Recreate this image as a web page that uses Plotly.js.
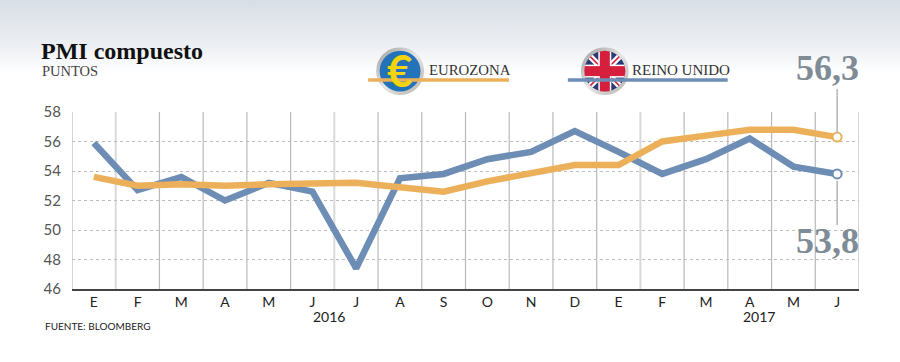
<!DOCTYPE html>
<html><head><meta charset="utf-8">
<script src="https://cdn.plot.ly/plotly-3.0.1.min.js"></script>
<style>
html,body{margin:0;padding:0;width:900px;height:362px;overflow:hidden;background:#fff}
body{background:linear-gradient(to bottom,#d8dee6 0,#eceff3 45px,#ffffff 73px,#ffffff 100%)}
#c{width:900px;height:362px}
</style></head><body><div id="c"></div>
<script>
const months = ['E','F','M','A','M','J','J','A','S','O','N','D','E','F','M','A','M','J'];
const positions = months.map((_, i) => i);
const yTicks = [46,48,50,52,54,56,58];
const reinoUnido = [55.9,52.7,53.6,52.0,53.2,52.6,47.4,53.5,53.8,54.8,55.3,56.7,55.3,53.8,54.8,56.2,54.3,53.8];
const eurozona = [53.6,53.0,53.1,53.0,53.1,53.1,53.2,52.9,52.6,53.3,53.9,54.4,54.4,56.0,56.4,56.8,56.8,56.3];
const ORANGE = '#edb05a', BLUE = '#6d8db5', GREY = '#7f8b95';

const W = 900, H = 362, L = 71.5, R = 859.5, T = 112, B = 289.5;
const px = x => (x - L) / (R - L);
const py = y => (B - y) / (B - T);
const SERIF = '"Liberation Serif",serif', SANS = 'Lato,sans-serif';

const euroSvg = `<svg xmlns="http://www.w3.org/2000/svg" width="96" height="96" viewBox="0 0 48 48">
<defs><linearGradient id="r" x1="0" y1="0" x2="1" y2="1"><stop offset="0" stop-color="#9a9a9a"/><stop offset=".5" stop-color="#e6e6e6"/><stop offset="1" stop-color="#b5b0a8"/></linearGradient></defs>
<circle cx="24" cy="24" r="24" fill="url(#r)"/><circle cx="24" cy="24" r="20.5" fill="#2273b9"/></svg>`;
const ukSvg = `<svg xmlns="http://www.w3.org/2000/svg" width="96" height="96" viewBox="0 0 48 48">
<defs><linearGradient id="r" x1="0" y1="0" x2="1" y2="1"><stop offset="0" stop-color="#9a9a9a"/><stop offset=".5" stop-color="#e6e6e6"/><stop offset="1" stop-color="#b5b0a8"/></linearGradient>
<clipPath id="k"><circle cx="24" cy="24" r="20.5"/></clipPath></defs>
<circle cx="24" cy="24" r="24" fill="url(#r)"/>
<g clip-path="url(#k)"><rect width="48" height="48" fill="#2b3a72"/>
<path d="M0 0L48 48M48 0L0 48" stroke="#fff" stroke-width="6"/>
<path d="M0 0L48 48M48 0L0 48" stroke="#d51f3c" stroke-width="1.6"/>
<rect x="17.5" width="13" height="48" fill="#fff"/><rect y="17.5" width="48" height="13" fill="#fff"/>
<rect x="19" width="10" height="48" fill="#d51f3c"/><rect y="19" width="48" height="10" fill="#d51f3c"/></g></svg>`;
const uri = s => 'data:image/svg+xml;base64,' + btoa(s);
const badge = (src, cx, cy, r) => ({source: uri(src), xref:'paper', yref:'paper', x:px(cx-r), y:py(cy-r), sizex:2*r/(R-L), sizey:2*r/(B-T), sizing:'stretch', xanchor:'left', yanchor:'top', layer:'above'});

const shapes = [];
for (let i = 0; i <= months.length; i++) {
  const soft = i === 1 || i === 6 || i === 13;
  shapes.push({type:'line', layer:'below', xref:'x', yref:'paper', x0:i-0.5, x1:i-0.5, y0:0, y1:1,
    line:{color: soft ? '#d9d9d9' : '#b9b9b9', width: soft ? 2 : 1.2}});
}
const legendLine = (x0,x1,color) => ({type:'line', xref:'paper', yref:'paper', x0:px(x0), x1:px(x1), y0:py(80), y1:py(80), line:{color, width:3.5}});
shapes.push(legendLine(368,509,ORANGE), legendLine(568,728,BLUE));
const last = months.length - 1;
shapes.push({type:'line', xref:'x', yref:'paper', x0:last, x1:last, y0:py(89), y1:py(133), line:{color:'#b5b5b5', width:1.5}});
shapes.push({type:'line', xref:'x', yref:'paper', x0:last, x1:last, y0:py(181), y1:py(225.5), line:{color:'#b5b5b5', width:1.5}});

const note = (text, x, y, size, color, family, anchor='left', weight) => ({
  text, xref:'paper', yref:'paper', x:px(x), y:py(y), showarrow:false, xanchor:anchor, yanchor:'middle',
  font:{size, color, family, weight: weight || 400}, borderpad:0, borderwidth:0
});

const annotations = [
  note('PMI compuesto', 40.5, 51, 24, '#111', SERIF, 'left', 700),
  note('PUNTOS', 41, 71, 14.5, '#444', SERIF),
  note('EUROZONA', 428.5, 69.5, 14.8, '#333', SERIF),
  note('REINO UNIDO', 632.5, 69.5, 15, '#333', SERIF),
  note('€', 400, 70, 44, '#f3d40d', SANS, 'center', 700),
  note('56,3', 859, 68, 36, GREY, SERIF, 'right', 700),
  note('53,8', 859, 241, 36, GREY, SERIF, 'right', 700),
  note('2016', 328.5, 317, 14, '#222', SANS, 'center'),
  note('2017', 759, 317, 14, '#222', SANS, 'center'),
  note('FUENTE: BLOOMBERG', 44, 327, 10, '#222', SANS)
];

const lineTrace = (name, y, color) => ({type:'scatter', mode:'lines', name, x:positions, y, line:{color, width:6.5, shape:'linear'}, hoverinfo:'x+y'});
const endTrace = (name, y, color) => ({type:'scatter', mode:'markers', name, x:[last], y:[y[last]], marker:{size:9, color:'#fff', line:{color, width:2}}, hoverinfo:'y'});

Plotly.newPlot('c', [
  lineTrace('Reino Unido', reinoUnido, BLUE),
  lineTrace('Eurozona', eurozona, ORANGE),
  endTrace('Reino Unido', reinoUnido, BLUE),
  endTrace('Eurozona', eurozona, ORANGE)
], {
  width:W, height:H, showlegend:false,
  paper_bgcolor:'rgba(0,0,0,0)', plot_bgcolor:'rgba(0,0,0,0)',
  margin:{l:L, r:W-R, t:T, b:H-B, pad:0},
  xaxis:{type:'linear', range:[-0.5, last+0.5], tickmode:'array', tickvals:positions, ticktext:months,
    showgrid:false, zeroline:false, showline:true, linecolor:'#444', linewidth:1.5, ticks:'', ticklen:0,
    tickangle:0, tickfont:{family:SANS, size:14, color:'#222'}},
  yaxis:{range:[46,58], tickmode:'array', tickvals:yTicks, ticktext:yTicks.map(String),
    showgrid:true, gridcolor:'#bdbdbd', griddash:'dot', gridwidth:1, zeroline:false, showline:false, ticks:'outside', ticklen:0,
    ticklabelstandoff:7, tickcolor:'rgba(0,0,0,0)', tickfont:{family:SANS, size:15, color:'#555'}},
  shapes, annotations,
  images:[badge(euroSvg,400,71,24), badge(ukSvg,605,71,24)]
}, {displayModeBar:false, staticPlot:true});
</script></body></html>
